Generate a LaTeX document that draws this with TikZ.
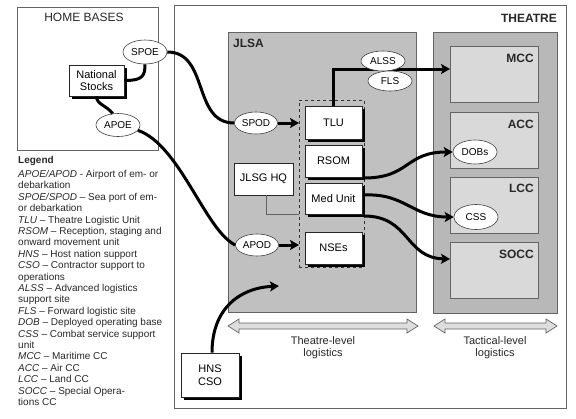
\documentclass[tikz,border=0pt]{standalone}
\usepackage{fontspec}
\setmainfont{Liberation Sans}
\usetikzlibrary{shapes.geometric,arrows.meta,shadows}
\definecolor{jlsagray}{RGB}{192,192,192}
\definecolor{tacout}{RGB}{184,184,184}
\definecolor{tacin}{RGB}{217,217,217}
\definecolor{edgegray}{RGB}{100,100,100}
\definecolor{txtgray}{RGB}{40,40,40}
\definecolor{arrfill}{RGB}{222,222,222}
\begin{document}
\begin{tikzpicture}[x=1pt,y=-1pt,
  region/.style={draw=edgegray, line width=0.8pt, inner sep=0pt, anchor=north west},
  box/.style={draw=black!85, fill=white, line width=0.8pt, minimum width=57, minimum height=32,
    inner sep=0pt, align=center, font=\fontsize{11}{12.5}\selectfont},
  shbox/.style={box, drop shadow={shadow xshift=2.5pt, shadow yshift=-2.5pt, fill=black, opacity=1}},
  oval/.style={ellipse, draw=black!75, fill=white, line width=0.6pt, minimum width=43,
    minimum height=22, inner sep=0pt, font=\fontsize{10}{12}\selectfont},
  conn/.style={line width=3pt, black},
  arr/.style={conn, -{Stealth[length=9pt,width=10pt,inset=2pt]}},
  title/.style={inner sep=0pt, font=\fontsize{12}{14}\selectfont\bfseries, text=txtgray},
  dblarr/.style={draw=edgegray, fill=arrfill, line width=0.7pt, line join=miter},
  lvl/.style={inner sep=0pt, align=center, font=\fontsize{11}{11.5}\selectfont, text=txtgray}
]
\useasboundingbox (0,0) rectangle (576,418);
\fill[white] (0,0) rectangle (576,418);

% regions
\node[region, fill=white, minimum width=141, minimum height=143] (home) at (17,7) {};
\node[region, fill=white, minimum width=392, minimum height=403] (theatre) at (174,5) {};
\node[region, fill=jlsagray, minimum width=188, minimum height=280] (jlsa) at (228,32) {};
\node[region, fill=tacout, minimum width=124, minimum height=281] (tac) at (433,32) {};
\node[region, fill=tacin, minimum width=88, minimum height=56] (mcc) at (450,46) {};
\node[region, fill=tacin, minimum width=88, minimum height=56] (acc) at (450,112) {};
\node[region, fill=tacin, minimum width=88, minimum height=56] (lcc) at (450,177) {};
\node[region, fill=tacin, minimum width=88, minimum height=56] (socc) at (450,242) {};

% titles
\node[inner sep=0pt, font=\fontsize{12}{14}\selectfont, text=txtgray] (hblbl) at (84,17) {HOME BASES};
\node[title, anchor=east] (thlbl) at (557,18) {THEATRE};
\node[title, anchor=west] (jlsalbl) at (233,43) {JLSA};
\node[title, anchor=east] (mcclbl) at (534,58) {MCC};
\node[title, anchor=east] (acclbl) at (534,124) {ACC};
\node[title, anchor=east] (lcclbl) at (534,188) {LCC};
\node[title, anchor=east] (socclbl) at (534,254) {SOCC};

% dashed group and boxes
\node[draw=black!80, dashed, line width=0.7pt, minimum width=65, minimum height=167, inner sep=0pt, anchor=north west] (grp) at (299,100) {};
\node[shbox, minimum height=33] (tlu) at (333.5,122.5) {TLU};
\node[shbox] (rsom) at (333.5,161) {RSOM};
\node[shbox, minimum height=31] (med) at (333.5,198.5) {Med Unit};
\node[shbox] (nse) at (333.5,248) {NSEs};
\node[box, minimum width=59] (jlsg) at (263.5,179) {JLSG HQ};
\node[shbox, minimum width=55, minimum height=31] (ns) at (96.5,80.5) {National\\Stocks};
\node[shbox, minimum width=58, minimum height=44] (hns) at (210,375) {HNS\\CSO};

% coordinates
\coordinate (jlsgend) at (299,214);
\coordinate (mccin) at (450,69);
\coordinate (d1) at (364,178);
\coordinate (d2) at (364,195);
\coordinate (d3) at (364,216);
\coordinate (soccin) at (450,259);
\coordinate (hnsend) at (279,286);
\coordinate (spodin) at (299,123);
\coordinate (apodin) at (299,245);

% ellipses (positions)
\node[oval, minimum width=44, minimum height=24] (spoe) at (145,52) {SPOE};
\node[oval, minimum width=44, minimum height=23] (apoe) at (118,125) {APOE};
\node[oval] (spod) at (256,123) {SPOD};
\node[oval] (apod) at (257,245) {APOD};

% connectors
\draw[edgegray, line width=0.8pt] ([xshift=2.5pt]jlsg.south) |- (jlsgend);
\draw[conn] (ns.east) .. controls +(18,0) and +(0,12) .. (spoe.south);
\draw[conn] (ns.south) .. controls +(0,8) and +(-6,-8) .. (apoe.115);
\draw[conn] (spoe.east) .. controls +(42,0) and +(-42,0) .. (spod.west);
\draw[conn] (apoe.-15) .. controls (180,145) and (205,230) .. (apod.west);
\draw[arr] (spod.east) -- (spodin);
\draw[arr] (apod.east) -- (apodin);
\draw[arr] (tlu.north) |- (mccin);
\draw[arr] ([xshift=2pt]hns.north) .. controls (212,310) and (238,288) .. (hnsend);

\node[oval, minimum width=44, minimum height=24] (dobs) at (475,152) {DOBs};
\node[oval, minimum width=44, minimum height=25] (css) at (476,217) {CSS};
\draw[arr] (d1) .. controls (410,178) and (405,152) .. (dobs.west);
\draw[arr] (d2) .. controls (405,193) and (412,217) .. (css.west);
\draw[arr] (d3) .. controls (410,216) and (405,258) .. (soccin);

\node[oval, minimum width=44, minimum height=20] (alss) at (383,61) {ALSS};
\node[oval, minimum width=44, minimum height=20] (fls) at (390,81) {FLS};

% level arrows
\draw[dblarr] (228,326) -- (239,319) -- (239,323) -- (407,323) -- (407,319) -- (418,326)
  -- (407,333) -- (407,329) -- (239,329) -- (239,333) -- cycle;
\draw[dblarr] (434,326) -- (445,319) -- (445,323) -- (546,323) -- (546,319) -- (557,326)
  -- (546,333) -- (546,329) -- (445,329) -- (445,333) -- cycle;
\node[lvl] (thlvl) at (323,347.5) {Theatre-level\\logistics};
\node[lvl] (taclvl) at (495,347.5) {Tactical-level\\logistics};

% legend
\node[anchor=base west, inner sep=0pt, font=\fontsize{10}{12}\selectfont\bfseries, text=txtgray] (leghead) at (18,163) {Legend};
\node[anchor=north west, inner sep=0pt, align=left, font=\fontsize{10}{11.4}\selectfont, text=txtgray] (legend) at (18,170) {%
\textit{APOE/APOD} - Airport of em- or\\
debarkation\\
\textit{SPOE/SPOD} -- Sea port of em-\\
or debarkation\\
\textit{TLU} -- Theatre Logistic Unit\\
\textit{RSOM} -- Reception, staging and\\
onward movement unit\\
\textit{HNS} -- Host nation support\\
\textit{CSO} -- Contractor support to\\
operations\\
\textit{ALSS} -- Advanced logistics\\
support site\\
\textit{FLS} -- Forward logistic site\\
\textit{DOB} -- Deployed operating base\\
\textit{CSS} -- Combat service support\\
unit\\
\textit{MCC} -- Maritime CC\\
\textit{ACC} -- Air CC\\
\textit{LCC} -- Land CC\\
\textit{SOCC} -- Special Opera-\\
tions CC};
\end{tikzpicture}
\end{document}
